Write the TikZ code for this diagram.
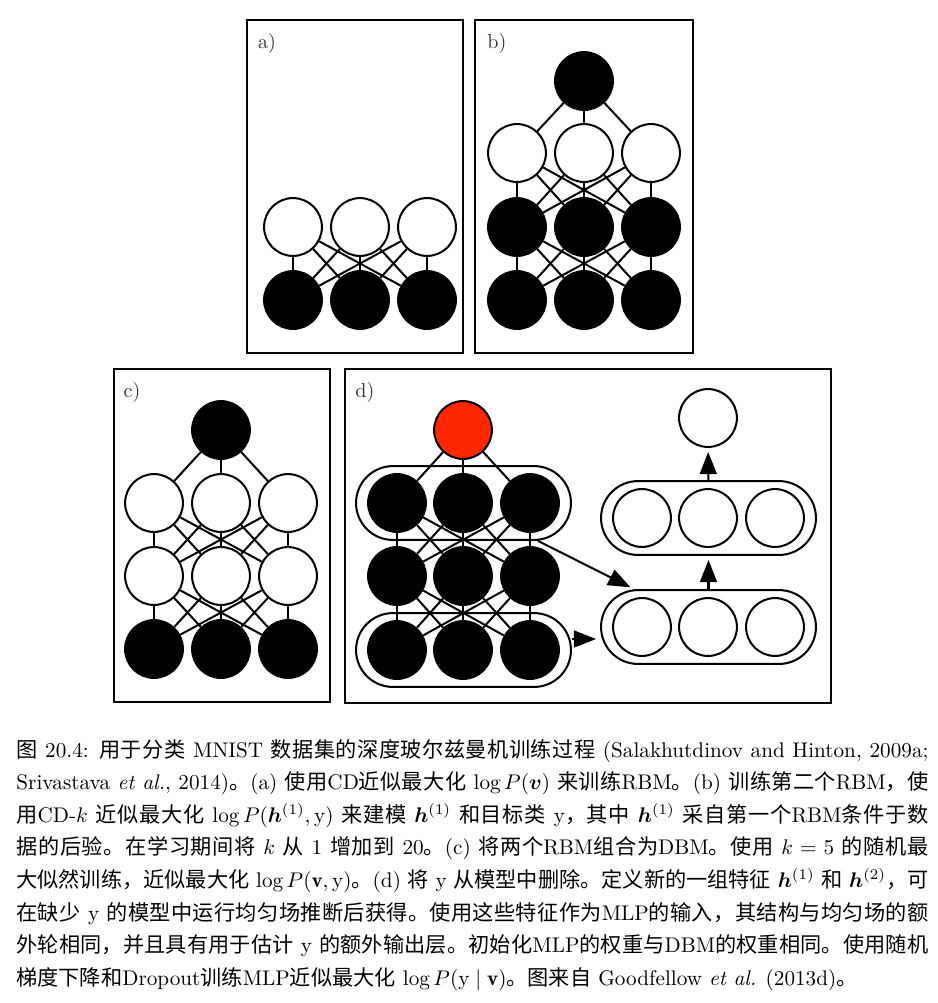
\documentclass[tikz,border=0pt]{standalone}
\usepackage{amsmath}
\usepackage{amssymb}
\usepackage{bm}
\usepackage{fontspec}
\newfontfamily\cjk{Noto Sans CJK SC}
\newcommand\zh[1]{{\cjk #1}}
% a little stretch between Chinese characters, so the caption can be justified
\XeTeXinterchartokenstate=1
\newXeTeXintercharclass\hanclass
\newcount\hanchar
\hanchar="4E00
\loop
  \XeTeXcharclass\hanchar=\hanclass
  \advance\hanchar by 1
\ifnum\hanchar<"A000 \repeat
\XeTeXcharclass"3002=\hanclass
\XeTeXcharclass"FF0C=\hanclass
\XeTeXinterchartoks\hanclass\hanclass={\hskip0pt plus 1.5pt\relax}
\usepackage{tikz}
\usetikzlibrary{arrows.meta, positioning, calc, fit}

\begin{document}
\begin{tikzpicture}[x=0.472pt, y=-0.472pt,
  panel/.style={draw, line width=1pt},
  neuron/.style={circle, draw, line width=0.95pt, minimum size=27.3pt, inner sep=0pt},
  darkunit/.style={neuron, fill=black},
  openunit/.style={neuron, fill=white},
  clampunit/.style={neuron, fill=clamp},
  link/.style={line width=0.95pt},
  layerbox/.style={draw, line width=0.95pt, rounded corners=17.4pt, inner xsep=5.2pt, inner ysep=3.3pt},
  arr/.style={line width=0.95pt, -{Triangle[length=10.5pt, width=8pt]}, shorten >=1.9pt},
  tag/.style={font=\fontsize{9.5}{11}\selectfont, text=black!80}]
\definecolor{clamp}{RGB}{255,38,0}
\useasboundingbox (0,0) rectangle (938,1003);

% ---- (a) first RBM ----
\draw[panel] (247,20) rectangle (463,353);
\node[tag] (labA) at (267,43) {a)};
\foreach \i/\x in {1/293,2/360,3/427} {
  \node[openunit] (a1\i) at (\x,227) {};
  \node[darkunit] (a2\i) at (\x,300) {};
}
\foreach \i in {1,2,3} \foreach \j in {1,2,3} \draw[link] (a1\i) -- (a2\j);

% ---- (b) second RBM on top ----
\draw[panel] (475,20) rectangle (693,353);
\node[tag] (labB) at (497,43) {b)};
\node[darkunit] (b0) at (584,81) {};
\foreach \i/\x in {1/517,2/584,3/651} {
  \node[openunit] (b1\i) at (\x,153) {};
  \node[darkunit] (b2\i) at (\x,227) {};
  \node[darkunit] (b3\i) at (\x,300) {};
}
\foreach \i in {1,2,3} {
  \draw[link] (b0) -- (b1\i);
  \foreach \j in {1,2,3} {
    \draw[link] (b1\i) -- (b2\j);
    \draw[link] (b2\i) -- (b3\j);
  }
}

% ---- (c) DBM ----
\draw[panel] (114,369) rectangle (330,702);
\node[tag] (labC) at (132,392) {c)};
\node[darkunit] (c0) at (221,430) {};
\foreach \i/\x in {1/154,2/221,3/288} {
  \node[openunit] (c1\i) at (\x,503) {};
  \node[openunit] (c2\i) at (\x,576) {};
  \node[darkunit] (c3\i) at (\x,649) {};
}
\foreach \i in {1,2,3} {
  \draw[link] (c0) -- (c1\i);
  \foreach \j in {1,2,3} {
    \draw[link] (c1\i) -- (c2\j);
    \draw[link] (c2\i) -- (c3\j);
  }
}

% ---- (d) DBM features into the MLP ----
\draw[panel] (345,369) rectangle (831,703);
\node[tag] (labD) at (365,392) {d)};
\node[clampunit] (d0) at (463,430) {};
\foreach \i/\x in {1/397,2/463,3/530} {
  \node[darkunit] (d1\i) at (\x,503) {};
  \node[darkunit] (d2\i) at (\x,576) {};
  \node[darkunit] (d3\i) at (\x,650) {};
}
\foreach \i in {1,2,3} {
  \draw[link] (d0) -- (d1\i);
  \foreach \j in {1,2,3} {
    \draw[link] (d1\i) -- (d2\j);
    \draw[link] (d2\i) -- (d3\j);
  }
}
\node[layerbox, fit=(d11)(d13)] (dtop) {};
\node[layerbox, fit=(d31)(d33)] (dbot) {};

% MLP side
\node[openunit] (out) at (708,418) {};
\foreach \i/\x in {1/642,2/708,3/775} {
  \node[openunit] (mh\i) at (\x,518) {};
  \node[openunit] (ml\i) at (\x,627) {};
}
\node[layerbox, fit=(mh1)(mh3)] (mhi) {};
\node[layerbox, fit=(ml1)(ml3)] (mlo) {};
\draw[arr] (dtop.-27) -- (mlo.153);
\draw[arr] ($(dbot.east)+(0,-11)$) -- ($(dbot.east -| mlo.west)+(0,-11)$);
\draw[arr] (mlo) -- (mhi);
\draw[arr] (mhi) -- (out);

% ---- CAPTION ----
\node[anchor=base west, text width=430.5pt, align=justify, inner sep=0pt,
      font=\fontsize{10}{15.4}\selectfont] (caption) at (16,757) {%
\zh{图} 20.4: \zh{用于分类} MNIST \zh{数据集的深度玻尔兹曼机训练过程} (Salakhutdinov and Hinton, 2009a;\linebreak
Srivastava \textit{et al.}, 2014)\zh{。}(a) \zh{使用}CD\zh{近似最大化} $\log P(\bm{v})$ \zh{来训练}RBM\zh{。}(b) \zh{训练第二个}RBM\zh{，使}\linebreak
\zh{用}CD-$k$ \zh{近似最大化} $\log P(\bm{h}^{(1)},\mathrm{y})$ \zh{来建模} $\bm{h}^{(1)}$ \zh{和目标类} y\zh{，其中} $\bm{h}^{(1)}$ \zh{采自第一个}RBM\zh{条件于数}\linebreak
\zh{据的后验。在学习期间将} $k$ \zh{从} 1 \zh{增加到} 20\zh{。}(c) \zh{将两个}RBM\zh{组合为}DBM\zh{。使用} $k=5$ \zh{的随机最}\linebreak
\zh{大似然训练，近似最大化} $\log P(\mathbf{v},\mathrm{y})$\zh{。}(d) \zh{将} y \zh{从模型中删除。定义新的一组特征} $\bm{h}^{(1)}$ \zh{和} $\bm{h}^{(2)}$\zh{，可}\linebreak
\zh{在缺少} y \zh{的模型中运行均匀场推断后获得。使用这些特征作为}MLP\zh{的输入，其结构与均匀场的额}\linebreak
\zh{外轮相同，并且具有用于估计} y \zh{的额外输出层。初始化}MLP\zh{的权重与}DBM\zh{的权重相同。使用随机}\linebreak
\zh{梯度下降和}Dropout\zh{训练}MLP\zh{近似最大化} $\log P(\mathrm{y}\mid\mathbf{v})$\zh{。图来自} Goodfellow \textit{et al.} (2013d)\zh{。}};

\end{tikzpicture}
\end{document}
